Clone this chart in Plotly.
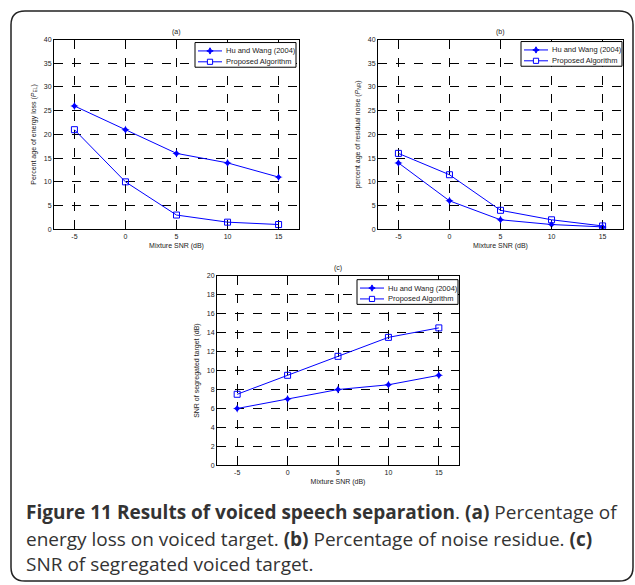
import plotly.graph_objects as go

W, H = 635, 585

snr = [-5, 0, 5, 10, 15]
x_ticks = [-5, 0, 5, 10, 15]
x_tick_text = ["-5", "0", "5", "10", "15"]

a_hu = [26, 21, 16, 14, 11]
a_prop = [21, 10, 3, 1.5, 1]
b_hu = [14, 6, 2, 1, 0.5]
b_prop = [16, 11.5, 4, 2, 0.7]
c_hu = [6, 7, 8, 8.5, 9.5]
c_prop = [7.5, 9.5, 11.5, 13.5, 14.5]

names = ["Hu and Wang (2004)", "Proposed Algorithm"]
panel_titles = ["(a)", "(b)", "(c)"]
y_titles = [
    "Percent age of energy loss (<i>P</i><sub>EL</sub>)",
    "percent age of residual noise (<i>P</i><sub>NR</sub>)",
    "SNR of segregated target (dB)",
]
x_title = "Mixture SNR (dB)"
caption_lines = [
    "<b>Figure 11 Results of voiced speech separation</b>. <b>(a)</b> Percentage of",
    "energy loss on voiced target. <b>(b)</b> Percentage of noise residue. <b>(c)</b>",
    "SNR of segregated voiced target.",
]

BLUE = "#0000ff"
TXT = "#222"


def px(x):
    return x / W


def py(y):
    return 1 - y / H


# plot area boxes in pixels: left, right, top, bottom
boxes = [(54, 299, 36, 228), (378, 623, 36, 228), (217, 459, 275, 467)]
y_ranges = [[0, 40], [0, 40], [0, 20]]
y_dticks = [5, 5, 2]
# legend boxes: right edge, top edge (pixels)
legend_pos = [(296, 39), (622, 38), (458, 279)]
LEG_W, LEG_H = 101, 25

fig = go.Figure()
data = [(a_hu, a_prop), (b_hu, b_prop), (c_hu, c_prop)]
for i, (hu, prop) in enumerate(data):
    sfx = "" if i == 0 else str(i + 1)
    fig.add_trace(go.Scatter(
        x=snr, y=hu, name=names[0], mode="lines+markers",
        line=dict(color=BLUE, width=1),
        marker=dict(symbol="star-diamond", size=6, color=BLUE),
        xaxis="x" + sfx, yaxis="y" + sfx, showlegend=False))
    fig.add_trace(go.Scatter(
        x=snr, y=prop, name=names[1], mode="lines+markers",
        line=dict(color=BLUE, width=1),
        marker=dict(symbol="square-open", size=6, color=BLUE, line=dict(width=1, color=BLUE)),
        xaxis="x" + sfx, yaxis="y" + sfx, showlegend=False))

layout = dict(
    width=W, height=H, margin=dict(l=0, r=0, t=0, b=0),
    paper_bgcolor="white", plot_bgcolor="white",
    font=dict(family="Liberation Sans, Arial", size=7, color=TXT),
    showlegend=False,
)

axis_common = dict(
    showline=True, mirror=True, linecolor="black", linewidth=1,
    ticks="inside", ticklen=3, tickcolor="black",
    showgrid=True, gridcolor="black", gridwidth=1, griddash="dash",
    zeroline=False, tickfont=dict(size=7, color=TXT),
)

annotations = []
shapes = []
for i, (l, r, t, b) in enumerate(boxes):
    sfx = "" if i == 0 else str(i + 1)
    layout["xaxis" + sfx] = dict(
        axis_common, domain=[px(l), px(r)], range=[-7, 17],
        tickvals=x_ticks, ticktext=x_tick_text, anchor="y" + sfx,
        title=dict(text=x_title, font=dict(size=7, color=TXT), standoff=4),
    )
    layout["yaxis" + sfx] = dict(
        axis_common, domain=[py(b), py(t)], range=y_ranges[i],
        dtick=y_dticks[i], anchor="x" + sfx,
        title=dict(text=y_titles[i], font=dict(size=7, color=TXT), standoff=6),
    )
    annotations.append(dict(
        text=panel_titles[i], x=px((l + r) / 2), y=py(t - 8),
        xref="paper", yref="paper", showarrow=False,
        font=dict(size=7, color=TXT), xanchor="center", yanchor="middle"))

    # legend box drawn as decoration
    rx, ty = legend_pos[i]
    lx = rx - LEG_W
    shapes.append(dict(type="rect", xref="paper", yref="paper",
                       x0=px(lx), x1=px(rx), y0=py(ty + LEG_H), y1=py(ty),
                       line=dict(color="black", width=1), fillcolor="white", layer="above"))
    for k, name in enumerate(names):
        ry = ty + 8.5 + 11 * k
        shapes.append(dict(type="line", xref="paper", yref="paper",
                           x0=px(lx + 3), x1=px(lx + 27), y0=py(ry), y1=py(ry),
                           line=dict(color=BLUE, width=1), layer="above"))
        mx = lx + 15
        if k == 0:
            s = 3.2
            path = (f"M {px(mx)},{py(ry - s)} L {px(mx + 1)},{py(ry - 1)} "
                    f"L {px(mx + s)},{py(ry)} L {px(mx + 1)},{py(ry + 1)} "
                    f"L {px(mx)},{py(ry + s)} L {px(mx - 1)},{py(ry + 1)} "
                    f"L {px(mx - s)},{py(ry)} L {px(mx - 1)},{py(ry - 1)} Z")
            shapes.append(dict(type="path", xref="paper", yref="paper", path=path,
                               line=dict(color=BLUE, width=1), fillcolor=BLUE, layer="above"))
        else:
            s = 2.6
            shapes.append(dict(type="rect", xref="paper", yref="paper",
                               x0=px(mx - s), x1=px(mx + s), y0=py(ry + s), y1=py(ry - s),
                               line=dict(color=BLUE, width=1), fillcolor="white", layer="above"))
        annotations.append(dict(
            text=name, x=px(lx + 29), y=py(ry), xref="paper", yref="paper",
            showarrow=False, xanchor="left", yanchor="middle",
            font=dict(size=7.5, color=TXT)))

cap_y = [514, 541, 567]
for txt, yy in zip(caption_lines, cap_y):
    annotations.append(dict(
        text=txt, x=px(24), y=py(yy), xref="paper", yref="paper",
        showarrow=False, xanchor="left", yanchor="middle", align="left",
        font=dict(family="Open Sans, Noto Sans", size=19, color="#333")))

layout["annotations"] = annotations

# rounded border
L, R, T, B, rad = 11, 633, 7, 584, 14
pts = [
    f"M {px(L)},{py(B - rad)}",
    f"L {px(L)},{py(T + rad)}",
    f"Q {px(L)},{py(T)} {px(L + rad)},{py(T)}",
    f"L {px(R - rad)},{py(T)}",
    f"Q {px(R)},{py(T)} {px(R)},{py(T + rad)}",
    f"L {px(R)},{py(B - rad)}",
    f"Q {px(R)},{py(B)} {px(R - rad)},{py(B)}",
    f"L {px(L + rad)},{py(B)}",
    f"Q {px(L)},{py(B)} {px(L)},{py(B - rad)}",
    "Z",
]
shapes.append(dict(type="path", path=" ".join(pts), xref="paper", yref="paper",
                   line=dict(color=TXT, width=1.5), layer="above"))
layout["shapes"] = shapes

fig.update_layout(**layout)
fig.write_html("out.html")
